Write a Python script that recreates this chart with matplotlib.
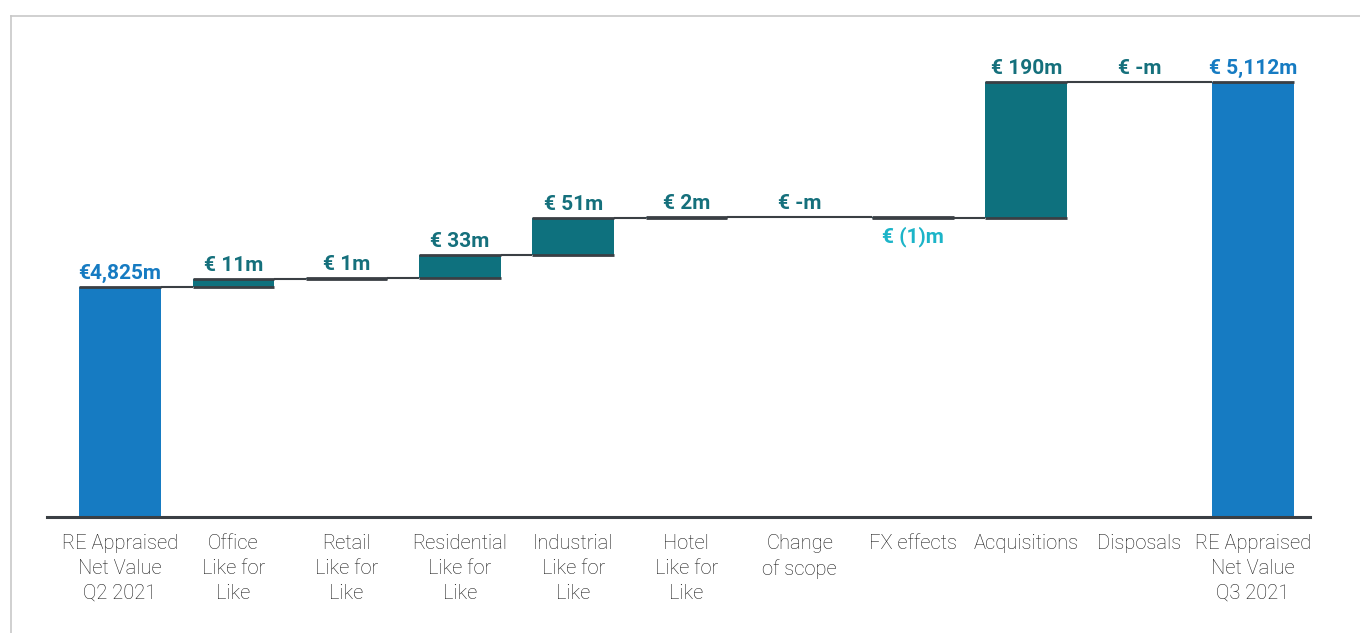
import matplotlib
matplotlib.use("Agg")
import matplotlib.pyplot as plt
from matplotlib.lines import Line2D

categories = ["RE Appraised\nNet Value\nQ2 2021", "Office\nLike for\nLike", "Retail\nLike for\nLike",
              "Residential\nLike for\nLike", "Industrial\nLike for\nLike", "Hotel\nLike for\nLike",
              "Change\nof scope", "FX effects", "Acquisitions", "Disposals",
              "RE Appraised\nNet Value\nQ3 2021"]
start_value = 4825
changes = [11, 1, 33, 51, 2, 0, -1, 190, 0]
end_value = 5112
value_labels = ["€4,825m", "€ 11m", "€ 1m", "€ 33m", "€ 51m", "€ 2m", "€ -m", "€ (1)m",
                "€ 190m", "€ -m", "€ 5,112m"]

BLUE = "#167bc2"
TEAL = "#0e717e"
TEAL_TXT = "#15707c"
CYAN_TXT = "#1cb4c8"
LINE = "#3a3f44"
y_floor = 4503

W, H = 1360, 633
fig = plt.figure(figsize=(W / 100, H / 100), dpi=100)
fig.patch.set_facecolor("white")
fig.add_artist(Line2D([11 / W, 11 / W], [0, 1 - 16 / H], transform=fig.transFigure, color="#c8c8c8", lw=1.2))
fig.add_artist(Line2D([11 / W, 1.0], [1 - 16 / H, 1 - 16 / H], transform=fig.transFigure, color="#c8c8c8", lw=1.2))

ax = fig.add_axes([47 / W, (H - 517) / H, (1310 - 47) / W, (517 - 22) / H])
n = len(categories)
width = 0.72
xs = list(range(n))

bottoms, heights, colors = [], [], []
bottoms.append(y_floor); heights.append(start_value - y_floor); colors.append(BLUE)
level = start_value
levels = [start_value]
for c in changes:
    lo = min(level, level + c)
    bottoms.append(lo); heights.append(abs(c)); colors.append(TEAL)
    level += c
    levels.append(level)
bottoms.append(y_floor); heights.append(end_value - y_floor); colors.append(BLUE)
levels.append(end_value)

ax.bar(xs, heights, bottom=bottoms, width=width, color=colors, zorder=2)

for i in range(n):
    if i in (0, n - 1):
        top = bottoms[i] + heights[i]
        ax.hlines(top, i - width / 2, i + width / 2, color=LINE, lw=2, zorder=3)
    elif heights[i] == 0:
        ax.hlines(bottoms[i], i - width / 2, i + width / 2, color=LINE, lw=1.5, zorder=3)
    else:
        b = bottoms[i]; t = b + heights[i]
        ax.hlines([b, t], i - width / 2, i + width / 2, color=LINE, lw=2, zorder=3)
for i in range(n - 1):
    ax.hlines(levels[i], i + width / 2, i + 1 - width / 2, color=LINE, lw=1.5, zorder=3)

for i in range(n):
    top = bottoms[i] + heights[i]
    col = BLUE if i in (0, n - 1) else TEAL_TXT
    if 0 < i < n - 1 and changes[i - 1] < 0:
        ax.annotate(value_labels[i], (i, bottoms[i]), xytext=(0, -6), textcoords="offset points",
                    ha="center", va="top", color=CYAN_TXT, fontsize=15, fontweight="bold",
                    family="Roboto")
    else:
        ax.annotate(value_labels[i], (i, top), xytext=(0, 3), textcoords="offset points",
                    ha="center", va="bottom", color=col, fontsize=15, fontweight="bold",
                    family="Roboto")

ax.set_xlim(-0.645, 10.505)
ax.set_ylim(y_floor, 5112 + (82 - 22) / 0.7143)
ax.set_xticks(xs)
ax.set_xticklabels(categories, fontsize=14.5, color="#1a1a1a", family="Roboto",
                   fontweight="light", linespacing=1.4)
ax.tick_params(axis="x", length=0, pad=12)
ax.set_yticks([])
for s in ["top", "right", "left"]:
    ax.spines[s].set_visible(False)
ax.spines["bottom"].set_color(LINE)
ax.spines["bottom"].set_linewidth(2.2)

fig.savefig("out.png", dpi=100)
